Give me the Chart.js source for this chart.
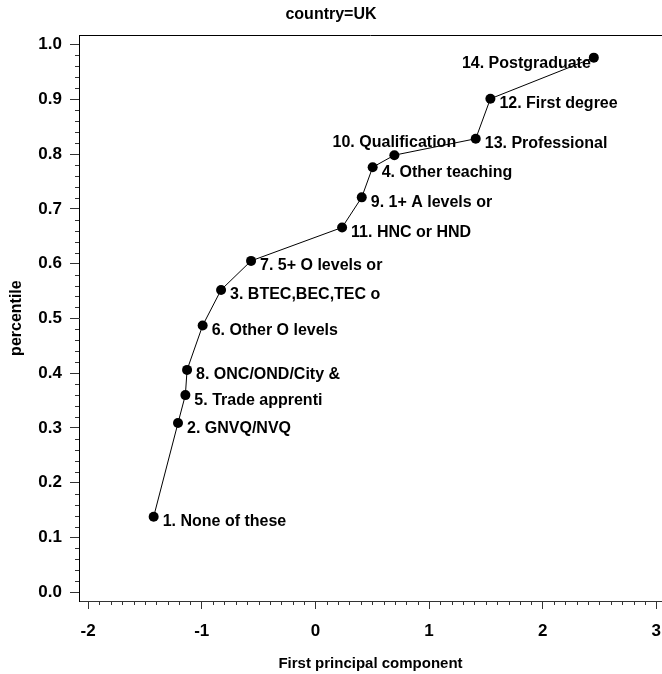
<!DOCTYPE html>
<html><head><meta charset="utf-8">
<script src="https://cdn.jsdelivr.net/npm/chart.js@4"></script>
<style>html,body{margin:0;padding:0;background:#fff}</style>
</head><body>
<canvas id="c" width="662" height="674"></canvas>
<script>
const categories = ['1. None of these','2. GNVQ/NVQ','5. Trade apprenti','8. ONC/OND/City &','6. Other O levels','3. BTEC,BEC,TEC o','7. 5+ O levels or','11. HNC or HND','9. 1+ A levels or','4. Other teaching','10. Qualification','13. Professional','12. First degree','14. Postgraduate'];
const component = [-1.423,-1.209,-1.144,-1.129,-0.992,-0.830,-0.566,0.235,0.408,0.504,0.695,1.411,1.540,2.450];
const percentile = [0.138,0.309,0.360,0.406,0.487,0.552,0.605,0.666,0.721,0.776,0.798,0.828,0.901,0.976];
const labelSide = ['r','r','r','r','r','r','r','r','r','r','t','r','r','l'];
const xTickLabels = ['-2','-1','0','1','2','3'];
const yTickLabels = ['0.0','0.1','0.2','0.3','0.4','0.5','0.6','0.7','0.8','0.9','1.0'];

const FAMILY = '"Liberation Sans", Arial, Helvetica, sans-serif';
Chart.defaults.font.family = FAMILY;
Chart.defaults.color = '#000';

const decor = {
  id: 'decor',
  beforeDatasetsDraw(chart) {
    const ctx = chart.ctx;
    const meta = chart.getDatasetMeta(0);
    ctx.save();
    ctx.fillStyle = '#000';
    ctx.font = 'bold 16px ' + FAMILY;
    ctx.textBaseline = 'alphabetic';
    meta.data.forEach((pt, i) => {
      const side = labelSide[i];
      const t = categories[i];
      if (side === 'r') { ctx.textAlign = 'left'; ctx.fillText(t, pt.x + 9, pt.y + 9.5); }
      else if (side === 'l') { ctx.textAlign = 'right'; ctx.fillText(t, pt.x - 3, pt.y + 10.5); }
      else { ctx.textAlign = 'center'; ctx.fillText(t, pt.x, pt.y - 8.5); }
    });
    ctx.restore();
  },
  afterDraw(chart) {
    const {ctx, chartArea: a, scales: {x, y}} = chart;
    ctx.save();
    ctx.strokeStyle = '#000';
    ctx.lineWidth = 1;
    ctx.beginPath();
    ctx.moveTo(a.left, Math.round(a.top) + 0.5);
    ctx.lineTo(chart.width, Math.round(a.top) + 0.5);
    ctx.stroke();
    ctx.strokeStyle = '#333';
    ctx.beginPath();
    for (let i = -20; i <= 30; i++) {
      if (i % 10 === 0) continue;
      const px = Math.round(x.getPixelForValue(i / 10)) + 0.5;
      ctx.moveTo(px, a.bottom); ctx.lineTo(px, a.bottom + 4);
    }
    for (let i = 0; i <= 50; i++) {
      if (i % 5 === 0) continue;
      const py = Math.round(y.getPixelForValue(i / 50)) + 0.5;
      ctx.moveTo(a.left - 4, py); ctx.lineTo(a.left, py);
    }
    ctx.stroke();
    ctx.restore();
  }
};

new Chart(document.getElementById('c'), {
  type: 'scatter',
  data: {
    datasets: [{
      data: component.map((v, i) => ({x: v, y: percentile[i]})),
      showLine: true,
      borderColor: '#000',
      borderWidth: 1,
      backgroundColor: '#000',
      pointBackgroundColor: '#000',
      pointBorderColor: '#000',
      pointBorderWidth: 0,
      pointRadius: 5,
      pointHoverRadius: 5,
      clip: false
    }]
  },
  options: {
    responsive: false,
    animation: false,
    devicePixelRatio: 1,
    layout: {padding: 0, autoPadding: false},
    plugins: {
      legend: {display: false},
      tooltip: {enabled: false},
      title: {display: true, text: 'country=UK', color: '#000', font: {size: 16, weight: 'bold'}, padding: {top: 5, bottom: 11}}
    },
    scales: {
      x: {
        type: 'linear', min: -2.08, max: 3.05,
        afterBuildTicks: s => { s.ticks = xTickLabels.map(t => ({value: parseFloat(t)})); },
        afterFit: s => { s.height = 73; s.paddingLeft = 0; s.paddingRight = 0; },
        grid: {drawOnChartArea: false, drawTicks: true, tickLength: 8, tickColor: '#333', tickWidth: 1},
        border: {display: true, color: '#333', width: 1},
        ticks: {color: '#000', font: {size: 17, weight: 'bold'}, padding: 12, maxRotation: 0, autoSkip: false,
          callback: (v, i) => xTickLabels[i]},
        title: {display: true, text: 'First principal component', color: '#000', font: {size: 15, weight: 'bold'}, padding: {top: 0, bottom: 1}}
      },
      y: {
        type: 'linear', min: -0.0159, max: 1.017,
        afterBuildTicks: s => { s.ticks = yTickLabels.map(t => ({value: parseFloat(t)})); },
        afterFit: s => { s.width = 79; s.paddingTop = 0; s.paddingBottom = 0; },
        grid: {drawOnChartArea: false, drawTicks: true, tickLength: 9, tickColor: '#333', tickWidth: 1},
        border: {display: true, color: '#000', width: 1},
        ticks: {color: '#000', font: {size: 17, weight: 'bold'}, padding: 8, autoSkip: false,
          callback: (v, i) => yTickLabels[i]},
        title: {display: true, text: 'percentile', color: '#000', font: {size: 16, weight: 'bold'}, padding: {top: 7, bottom: 0}}
      }
    }
  },
  plugins: [decor]
});
</script>
</body></html>
